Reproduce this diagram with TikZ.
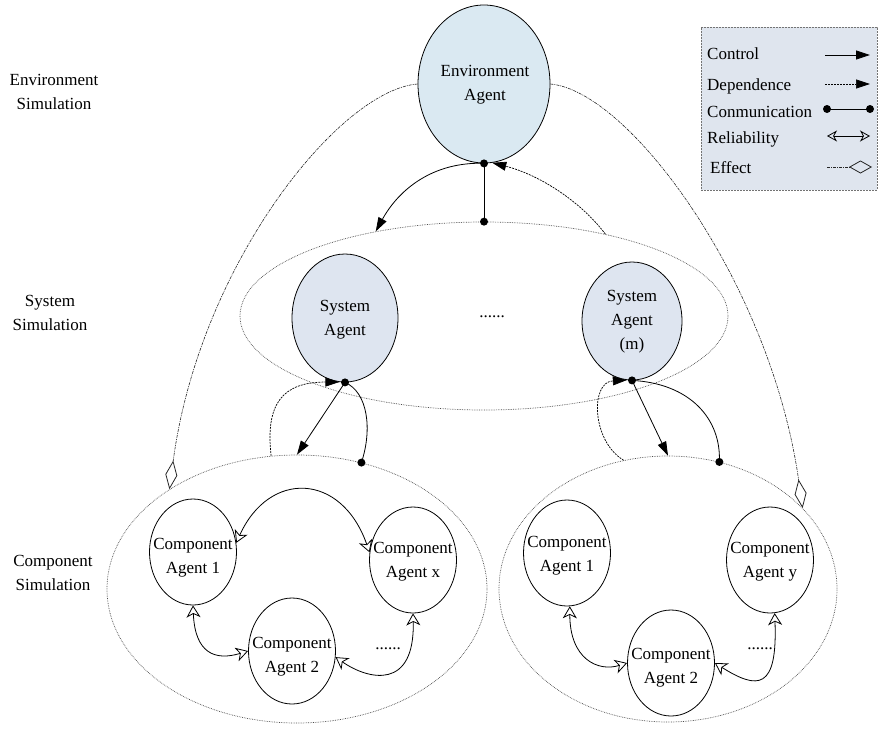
\documentclass[tikz,border=0pt]{standalone}
\usepackage{fontspec}
\setmainfont{Liberation Serif}
\usetikzlibrary{shapes.geometric,arrows.meta}
\definecolor{envfill}{RGB}{218,233,242}
\definecolor{sysfill}{RGB}{222,229,240}
\definecolor{legfill}{RGB}{223,229,238}
\begin{document}
\begin{tikzpicture}[x=1pt,y=-1pt,
  txt/.style={font=\fontsize{17}{24}\selectfont, align=center, inner sep=0pt},
  agent/.style={ellipse, draw=black, line width=0.8pt, inner sep=0pt},
  envagent/.style={agent, fill=envfill, minimum width=132pt, minimum height=158pt},
  sysagent/.style={agent, fill=sysfill},
  compagent/.style={agent, fill=white, minimum width=87pt, minimum height=106pt},
  group/.style={ellipse, draw=black!70, densely dotted, line width=0.7pt, inner sep=0pt},
  ctrl/.style={line width=0.8pt, -{Triangle[length=14pt,width=9pt]}},
  dep/.style={line width=0.7pt, dash pattern=on 2pt off 1pt, -{Triangle[length=14pt,width=9pt]}},
  comm/.style={line width=0.8pt},
  rel/.style={line width=0.8pt, {Stealth[open,length=12pt,width=14pt,inset=3.5pt]}-{Stealth[open,length=12pt,width=14pt,inset=3.5pt]}},
  eff/.style={line width=0.6pt, draw=black!85, dash pattern=on 3pt off 1pt on 1pt off 1pt,
    -{Diamond[open,length=29pt,width=12pt,line width=0.8pt]}},
  dotr/.style={fill=black}
]
\useasboundingbox (0,0) rectangle (880,728);

% level labels
\node[txt] (lblEnv) at (54,92) {Environment\\Simulation};
\node[txt] (lblSys) at (50,313) {System\\Simulation};
\node[txt] (lblComp) at (53,573) {Component\\Simulation};

% grouping ellipses
\node[group, minimum width=488pt, minimum height=188pt] (sysSim) at (484,316) {};
\node[group, minimum width=380pt, minimum height=268pt] (compL) at (297,589) {};
\node[group, minimum width=338pt, minimum height=266pt] (compR) at (668,589) {};

% environment agent
\node[envagent] (env) at (484,84) {};
\node[txt] (envT) at (485,85) {Environment\\Agent};

% system agents
\node[sysagent, minimum width=106pt, minimum height=128pt] (sysL) at (345,318) {};
\node[txt] (sysLT) at (345,320) {System\\Agent};
\node[sysagent, minimum width=100pt, minimum height=118pt] (sysR) at (632,321) {};
\node[txt] (sysRT) at (632,322) {System\\Agent\\(m)};
\node[txt] (sysDots) at (492,317) {......};

% component agents, left group
\node[compagent] (cA1) at (193,552) {};
\node[txt] (cA1T) at (193,558) {Component\\Agent 1};
\node[compagent] (cAx) at (413,560) {};
\node[txt] (cAxT) at (413,562) {Component\\Agent x};
\node[compagent] (cA2) at (292,651) {};
\node[txt] (cA2T) at (292,657) {Component\\Agent 2};
\node[txt] (cADots) at (388,649) {......};

% component agents, right group
\node[compagent] (cB1) at (567,553) {};
\node[txt] (cB1T) at (567,556) {Component\\Agent 1};
\node[compagent] (cBy) at (770,560) {};
\node[txt] (cByT) at (770,562) {Component\\Agent y};
\node[compagent] (cB2) at (671,663) {};
\node[txt] (cB2T) at (671,668) {Component\\Agent 2};
\node[txt] (cBDots) at (760,649) {......};

% environment <-> system level
\draw[comm] (env.south) -- (sysSim.north);
\draw[ctrl] (env.-93) .. controls +(-50,0) and +(22,-40) .. (sysSim.142);
\draw[dep] (sysSim.34) .. controls +(-25,-33) and +(47,12) .. (env.-84);

% system agent <-> left component group
\draw[comm] (sysL.south) .. controls +(23,10) and +(11,-33) .. (compL.63);
\draw[ctrl] (sysL.south) -- (compL.north);
\draw[dep] (compL.101) .. controls +(-6,-52) and +(-57,0) .. (sysL.-95);

% system agent (m) <-> right component group
\draw[comm] (sysR.south) .. controls +(58,3) and +(2,-43) .. (compR.68);
\draw[ctrl] (sysR.south) -- (compR.north);
\draw[dep] (compR.109) .. controls +(-32,-19) and +(-37,2) .. (sysR.-95);

% effect of the environment on the component groups
\draw[eff] (env.west) .. controls +(-78,6) and +(30,-225) .. (compL.142);
\draw[eff] (env.east) .. controls +(79,7) and +(-32,-225) .. (compR.31);

% reliability links inside the groups
\draw[rel] (cA1.12) .. controls +(33,-73) and +(-28,-80) .. (cAx.170);
\draw[rel] (cA1.south) .. controls +(2,48) and +(-33,10) .. (cA2.west);
\draw[rel] (cA2.-8) .. controls +(33,23) and +(2,77) .. (cAx.south);
\draw[rel] (cB1.-87) .. controls +(0,53) and +(-29,9) .. (cB2.west);
\draw[rel] (cB2.east) .. controls +(43,27) and +(3,77) .. (cBy.-85);

% communication end points
\fill[dotr] (env.south) circle (4pt);
\fill[dotr] (sysSim.north) circle (4pt);
\fill[dotr] (sysL.south) circle (4pt);
\fill[dotr] (compL.63) circle (4pt);
\fill[dotr] (sysR.south) circle (4pt);
\fill[dotr] (compR.68) circle (4pt);

% legend
\node[draw=black!55, dash pattern=on 2pt off 1pt, fill=legfill, minimum width=176pt,
  minimum height=163pt, inner sep=0pt, anchor=north west] (legend) at (701,27) {};
\node[txt, anchor=base west] (lgCtrl) at (707,59) {Control};
\node[txt, anchor=base west] (lgDep) at (707,90) {Dependence};
\node[txt, anchor=base west] (lgComm) at (707,117) {Conmunication};
\node[txt, anchor=base west] (lgRel) at (707,143) {Reliability};
\node[txt, anchor=base west] (lgEff) at (710,173) {Effect};
\coordinate (k1a) at (825,55);  \coordinate (k1b) at (870,55);
\coordinate (k2a) at (825,84);  \coordinate (k2b) at (870,84);
\coordinate (k3a) at (827,109); \coordinate (k3b) at (870,109);
\coordinate (k4a) at (827,136); \coordinate (k4b) at (870,136);
\coordinate (k5a) at (827,167); \coordinate (k5b) at (872,167);
\draw[ctrl] (k1a) -- (k1b);
\draw[dep] (k2a) -- (k2b);
\draw[comm] (k3a) -- (k3b);
\fill[dotr] (k3a) circle (4pt);
\fill[dotr] (k3b) circle (4pt);
\draw[line width=0.8pt, {Stealth[open,length=10pt,width=11pt,inset=3pt]}-{Stealth[open,length=10pt,width=11pt,inset=3pt]}] (k4a) -- (k4b);
\draw[line width=0.6pt, draw=black!85, dash pattern=on 3pt off 1pt on 1pt off 1pt,
  -{Diamond[open,length=23pt,width=13pt,line width=0.8pt]}] (k5a) -- (k5b);
\end{tikzpicture}
\end{document}
